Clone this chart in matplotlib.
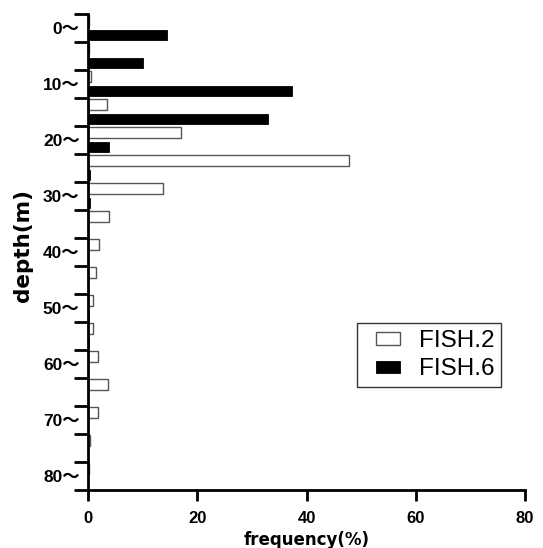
import matplotlib
matplotlib.use("Agg")
import matplotlib.pyplot as plt
import matplotlib.patches as mpatches
from matplotlib.legend_handler import HandlerPatch
import numpy as np

plt.rcParams['font.family'] = ['Liberation Sans', 'Noto Sans CJK JP', 'DejaVu Sans']

depth_bins = [0, 5, 10, 15, 20, 25, 30, 35, 40, 45, 50, 55, 60, 65, 70, 75, 80]
fish2 = [0.25, 0.2, 0.5, 3.55, 16.95, 47.7, 13.65, 3.9, 2.1, 1.5, 0.95, 1.0, 1.9, 3.7, 1.9, 0.35, 0.2]
fish6 = [14.45, 10.1, 37.3, 33.0, 3.8, 0.45, 0.3, 0.0, 0.0, 0.0, 0.25, 0.25, 0.0, 0.0, 0.0, 0.0, 0.0]
series_names = ["FISH.2", "FISH.6"]
label_depths = [0, 10, 20, 30, 40, 50, 60, 70, 80]
x_ticks = [0, 20, 40, 60, 80]

W, H = 543, 548
fig = plt.figure(figsize=(W/100, H/100), dpi=100)
ax = fig.add_axes([88/W, 1-490/H, (525-88)/W, (490-14)/H])

d = np.array(depth_bins, dtype=float)
b2 = ax.barh(d + 1.2, fish2, height=1.9, color='white', edgecolor='#555555', linewidth=1.0, label=series_names[0])
b6 = ax.barh(d + 3.7, fish6, height=1.8, color='black', edgecolor='black', linewidth=0.6, label=series_names[1])

ax.set_xlim(0, 80)
ax.set_ylim(85, 0)

for s in ['top', 'right']:
    ax.spines[s].set_visible(False)
for s in ['left', 'bottom']:
    ax.spines[s].set_linewidth(2)

ax.set_xticks(x_ticks)
ax.set_xticklabels([str(t) for t in x_ticks], fontsize=12, fontweight='bold')
ax.tick_params(axis='x', direction='out', length=8, width=2, pad=7)

ax.set_yticks(np.arange(0, 86, 5))
ax.set_yticklabels([])
ax.tick_params(axis='y', which='major', direction='out', length=10, width=2)
ax.set_yticks([v + 2.5 for v in label_depths], minor=True)
ax.set_yticklabels([f"{v}～" for v in label_depths], minor=True, fontsize=12.5, fontweight='bold')
ax.tick_params(axis='y', which='minor', length=0, pad=6)

ax.set_xlabel("frequency(%)", fontsize=12, fontweight='bold', family=['DejaVu Sans'])
ax.xaxis.set_label_coords(0.5, -0.086)
ax.set_ylabel("depth(m)", fontsize=15.5, fontweight='bold', family=['DejaVu Sans'])
ax.yaxis.set_label_coords((33-88)/437, 0.513)


def make_patch(legend, orig_handle, xdescent, ydescent, width, height, fontsize):
    w = 1.0 * fontsize
    h = 0.5 * fontsize
    return mpatches.Rectangle((-xdescent + width - w, -ydescent + (height - h) / 2), w, h)


leg = ax.legend(handles=[b2.patches[0], b6.patches[0]], labels=series_names,
                loc='upper left', bbox_to_anchor=((356.7-88)/437, (490-322.7)/476), fontsize=17.5,
                frameon=True, fancybox=False, edgecolor='#333333', framealpha=1,
                handlelength=1.5, handleheight=0.7, handletextpad=0.75,
                borderpad=0.3, labelspacing=0.25, borderaxespad=0,
                handler_map={mpatches.Rectangle: HandlerPatch(patch_func=make_patch)})
leg.get_frame().set_linewidth(1.0)

fig.savefig("out.png", dpi=100)
